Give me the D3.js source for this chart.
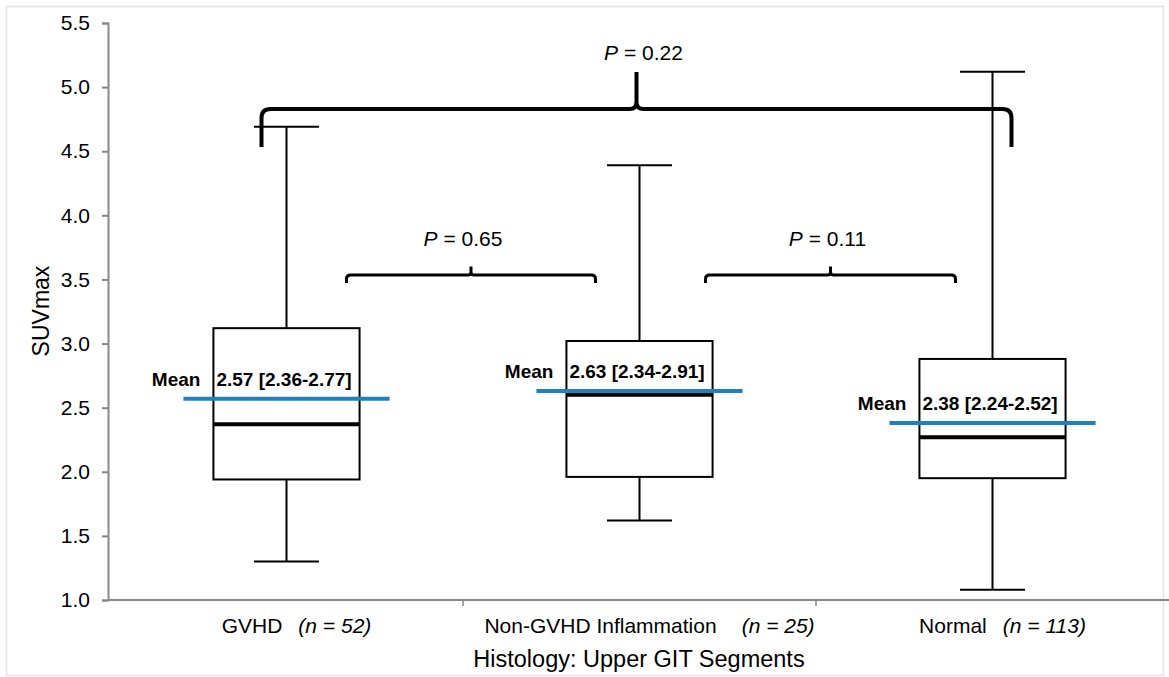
<!DOCTYPE html>
<html><head><meta charset="utf-8">
<script src="https://cdn.jsdelivr.net/npm/d3@7"></script>
<style>
body{margin:0;background:#fff}
svg{display:block}
text{font-family:"Liberation Sans",Arial,Helvetica,sans-serif;fill:#000}
</style>
</head><body>
<svg id="chart" width="1169" height="677"></svg>
<script>
// ---------------- data ----------------
const categories   = ["GVHD", "Non-GVHD Inflammation", "Normal"];
const nLabels      = ["(n = 52)", "(n = 25)", "(n = 113)"];
const whiskerLow   = [1.30, 1.62, 1.08];
const q1           = [1.94, 1.96, 1.95];
const median       = [2.37, 2.60, 2.27];
const q3           = [3.12, 3.02, 2.88];
const whiskerHigh  = [4.69, 4.39, 5.12];
const means        = [2.57, 2.63, 2.38];
const meanLabels   = ["2.57 [2.36-2.77]", "2.63 [2.34-2.91]", "2.38 [2.24-2.52]"];
const yTicks       = [1.0, 1.5, 2.0, 2.5, 3.0, 3.5, 4.0, 4.5, 5.0, 5.5];
const compFrom     = [0, 1, 0];
const compTo       = [1, 2, 2];
const compP        = ["0.65", "0.11", "0.22"];
const compLevel    = [3.535, 3.535, 4.83];
const yTitle = "SUVmax";
const xTitle = "Histology: Upper GIT Segments";

// ---------------- layout ----------------
const W = 1169, H = 677;
const labelGap = [16, 25, 16];
const bracketLeftOff = [60, 66, -25];
const bracketRightOff = [-44, -37, 19];
const pTextOff = [-8, -3, 7];
const svg = d3.select("#chart");
svg.append("rect").attr("x", 6.5).attr("y", 6.5).attr("width", W - 12).attr("height", H - 8)
  .attr("fill", "#fff").attr("stroke", "#e4e4e4").attr("stroke-width", 1.5);

const x = d3.scaleBand().domain(categories).range([110, 1169]).paddingInner(0).paddingOuter(0);
const y = d3.scaleLinear().domain([1, 5.5]).range([600, 23]);
const cx = i => x(categories[i]) + x.bandwidth() / 2;
const boxW = x.bandwidth() * 0.414;
const capW = 65;
const axisColor = "#888";

// y axis
const yAxis = svg.append("g").attr("transform", "translate(108,0)")
  .call(d3.axisLeft(y).tickValues(yTicks).tickFormat(d3.format(".1f")).tickSize(6).tickPadding(12));
yAxis.select(".domain").attr("stroke", axisColor).attr("stroke-width", 2);
yAxis.selectAll(".tick line").attr("stroke", axisColor).attr("stroke-width", 2);
yAxis.selectAll(".tick text").attr("font-size", 21).attr("fill", "#000")
  .style("font-family", '"Liberation Sans",Arial,sans-serif');

// x axis line
svg.append("line").attr("x1", 108).attr("x2", 1169).attr("y1", y(1)).attr("y2", y(1))
  .attr("stroke", axisColor).attr("stroke-width", 2);
[1, 2].forEach(i => {
  const xx = x(categories[i]);
  svg.append("line").attr("x1", xx).attr("x2", xx).attr("y1", y(1)).attr("y2", y(1) + 6)
    .attr("stroke", axisColor).attr("stroke-width", 1.5);
});

// ---------------- boxes ----------------
categories.forEach((c, i) => {
  const g = svg.append("g");
  const xc = cx(i);
  g.append("line").attr("x1", xc).attr("x2", xc).attr("y1", y(whiskerHigh[i])).attr("y2", y(q3[i]))
    .attr("stroke", "#000").attr("stroke-width", 2);
  g.append("line").attr("x1", xc).attr("x2", xc).attr("y1", y(q1[i])).attr("y2", y(whiskerLow[i]))
    .attr("stroke", "#000").attr("stroke-width", 2);
  g.append("line").attr("x1", xc - capW / 2).attr("x2", xc + capW / 2).attr("y1", y(whiskerHigh[i])).attr("y2", y(whiskerHigh[i]))
    .attr("stroke", "#000").attr("stroke-width", 2);
  g.append("line").attr("x1", xc - capW / 2).attr("x2", xc + capW / 2).attr("y1", y(whiskerLow[i])).attr("y2", y(whiskerLow[i]))
    .attr("stroke", "#000").attr("stroke-width", 2);
  g.append("rect").attr("x", xc - boxW / 2).attr("y", y(q3[i])).attr("width", boxW).attr("height", y(q1[i]) - y(q3[i]))
    .attr("fill", "#fff").attr("stroke", "#000").attr("stroke-width", 2);
  g.append("line").attr("x1", xc - boxW / 2).attr("x2", xc + boxW / 2).attr("y1", y(median[i])).attr("y2", y(median[i]))
    .attr("stroke", "#000").attr("stroke-width", 4);
  g.append("line").attr("x1", xc - boxW / 2 - 30).attr("x2", xc + boxW / 2 + 30).attr("y1", y(means[i])).attr("y2", y(means[i]))
    .attr("stroke", "#1f80c2").attr("stroke-width", 4);
  g.append("text").attr("x", xc - boxW / 2 - 13).attr("y", y(means[i]) - 13).attr("text-anchor", "end")
    .attr("font-size", 19).attr("font-weight", "bold").text("Mean");
  g.append("text").attr("x", xc - boxW / 2 + 3).attr("y", y(means[i]) - 13)
    .attr("font-size", 19).attr("font-weight", "bold").text(meanLabels[i]);
  const t = svg.append("text").attr("x", xc + 10).attr("y", 633).attr("text-anchor", "middle").attr("font-size", 21);
  t.append("tspan").text(c);
  t.append("tspan").attr("dx", labelGap[i]).attr("font-style", "italic").text(nLabels[i]);
});

// ---------------- brackets ----------------
function bracketPath(xL, xR, yH, drop, rise, r, flare) {
  const xP = (xL + xR) / 2;
  const yPk = yH - rise;
  return `M${xL},${yH + drop} L${xL},${yH + r} Q${xL},${yH} ${xL + r},${yH} ` +
         `L${xP - flare},${yH} Q${xP},${yH} ${xP},${yH - flare} L${xP},${yPk} ` +
         `M${xP},${yH - flare} Q${xP},${yH} ${xP + flare},${yH} ` +
         `L${xR - r},${yH} Q${xR},${yH} ${xR},${yH + r} L${xR},${yH + drop}`;
}
compFrom.forEach((f, k) => {
  const t = compTo[k];
  const big = (t - f) > 1;
  const xL = cx(f) + bracketLeftOff[k];
  const xR = cx(t) + bracketRightOff[k];
  const yH = y(compLevel[k]);
  const rise = big ? 37 : 8.5;
  svg.append("path")
    .attr("d", bracketPath(xL, xR, yH, big ? 38 : 8, rise, big ? 9 : 4, big ? 7 : 3))
    .attr("fill", "none").attr("stroke", "#000").attr("stroke-width", big ? 4 : 3)
    .attr("stroke-linejoin", "round");
  const tx = svg.append("text").attr("x", (xL + xR) / 2 + pTextOff[k]).attr("y", yH - rise - (big ? 12 : 20))
    .attr("text-anchor", "middle").attr("font-size", 21);
  tx.append("tspan").attr("font-style", "italic").text("P");
  tx.append("tspan").text(" = " + compP[k]);
});

// ---------------- titles ----------------
svg.append("text").attr("transform", `translate(49,${311}) rotate(-90)`).attr("text-anchor", "middle")
  .attr("font-size", 23).text(yTitle);
svg.append("text").attr("x", 639).attr("y", 667).attr("text-anchor", "middle").attr("font-size", 23.5).text(xTitle);
</script>
</body></html>
